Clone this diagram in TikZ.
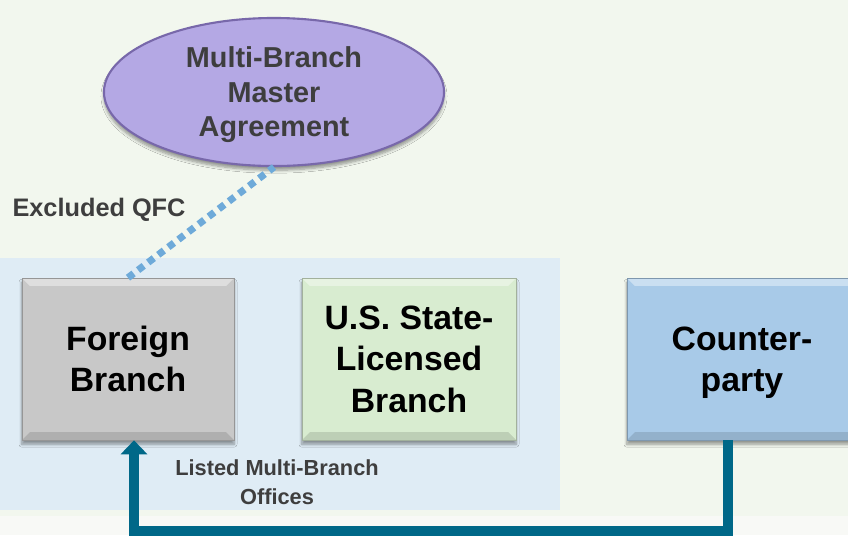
\documentclass[tikz,border=0pt]{standalone}
\usepackage{fontspec}
\setmainfont{Liberation Sans}
\usepackage{tikz}
\usetikzlibrary{shapes.geometric}
\usetikzlibrary{arrows.meta}
\usetikzlibrary{shadows.blur}
\usepackage{color}
\definecolor{Back-1}{RGB}{242,247,238}
\definecolor{Back-2}{RGB}{223,236,245}
\definecolor{Back-3}{RGB}{248,249,246}
\definecolor{Box-gray}{RGB}{200,200,200}
\definecolor{Box-green}{RGB}{216,236,208}
\definecolor{Box-blue}{RGB}{168,202,232}
\definecolor{Agr-fill}{RGB}{180,168,228}
\definecolor{Agr-edge}{RGB}{120,104,170}
\definecolor{Dot-blue}{RGB}{110,170,217}
\definecolor{Link-teal}{RGB}{0,104,136}
\definecolor{Txt-gray}{RGB}{62,62,62}

\begin{document}
\begin{tikzpicture}[x=0.025cm, y=-0.025cm]
    \path[use as bounding box] (0,0) rectangle (848,535);
    \fill[Back-1] (0,0) rectangle (848,535);
    \fill[Back-3] (0,516) rectangle (848,535);
    \fill[Back-2] (0,258) rectangle (560,510);

    \tikzset{ bx/.style ={draw=#1!75!black, fill=#1, minimum height=4.05cm, align=center,
        font=\bfseries\fontsize{24}{29.5}\selectfont, inner sep=0pt, text depth=0pt,
        blur shadow={shadow xshift=0pt, shadow yshift=-3pt, shadow blur steps=6},
        path picture={
          \fill[white, opacity=0.4] (path picture bounding box.north west) -- (path picture bounding box.north east)
            -- ([shift={(-0.2cm,-0.2cm)}]path picture bounding box.north east) -- ([shift={(0.2cm,-0.2cm)}]path picture bounding box.north west) -- cycle;
          \fill[black, opacity=0.12] (path picture bounding box.south west) -- (path picture bounding box.south east)
            -- ([shift={(-0.2cm,0.2cm)}]path picture bounding box.south east) -- ([shift={(0.2cm,0.2cm)}]path picture bounding box.south west) -- cycle;
        }} }
    \tikzset{ ag/.style ={draw=Agr-edge, line width=1.5pt, fill=Agr-fill, ellipse, inner sep=0pt,
        minimum width=8.5cm, minimum height=3.7cm, align=center, text=Txt-gray, text depth=0pt,
        font=\bfseries\fontsize{20.5}{24.5}\selectfont,
        blur shadow={shadow xshift=0pt, shadow yshift=-3pt, shadow blur steps=6}} }
    \tikzset{ lb/.style ={text=Txt-gray, align=center, inner sep=0pt} }

    \node[ag] (mba) at (274, 92) {Multi-Branch\\Master\\Agreement};

    \node[bx=Box-gray,  minimum width=5.3cm]  (fb) at (128, 359) {Foreign\\Branch};
    \node[bx=Box-green, minimum width=5.35cm] (sb) at (409, 359) {U.S. State-\\Licensed\\Branch};
    \node[bx=Box-blue,  minimum width=5.75cm] (cp) at (742, 359) {Counter-\\party};

    \node[lb, font=\bfseries\fontsize{18}{22}\selectfont] (qfc) at (99, 210) {Excluded QFC};
    \node[lb, font=\bfseries\fontsize{15.5}{20.5}\selectfont] (lmb) at (277, 482) {Listed Multi-Branch\\Offices};

    \draw[Dot-blue, line width=5pt, dash pattern=on 5pt off 4pt] (fb.north) -- (mba.south);

    \coordinate (turn) at (134, 531);
    \draw[-{Triangle[length=0.35cm, width=0.65cm]}, Link-teal, line width=7pt]
        ([xshift=-0.35cm]cp.south) |- (turn) -- (turn |- fb.south);
\end{tikzpicture}
\end{document}
